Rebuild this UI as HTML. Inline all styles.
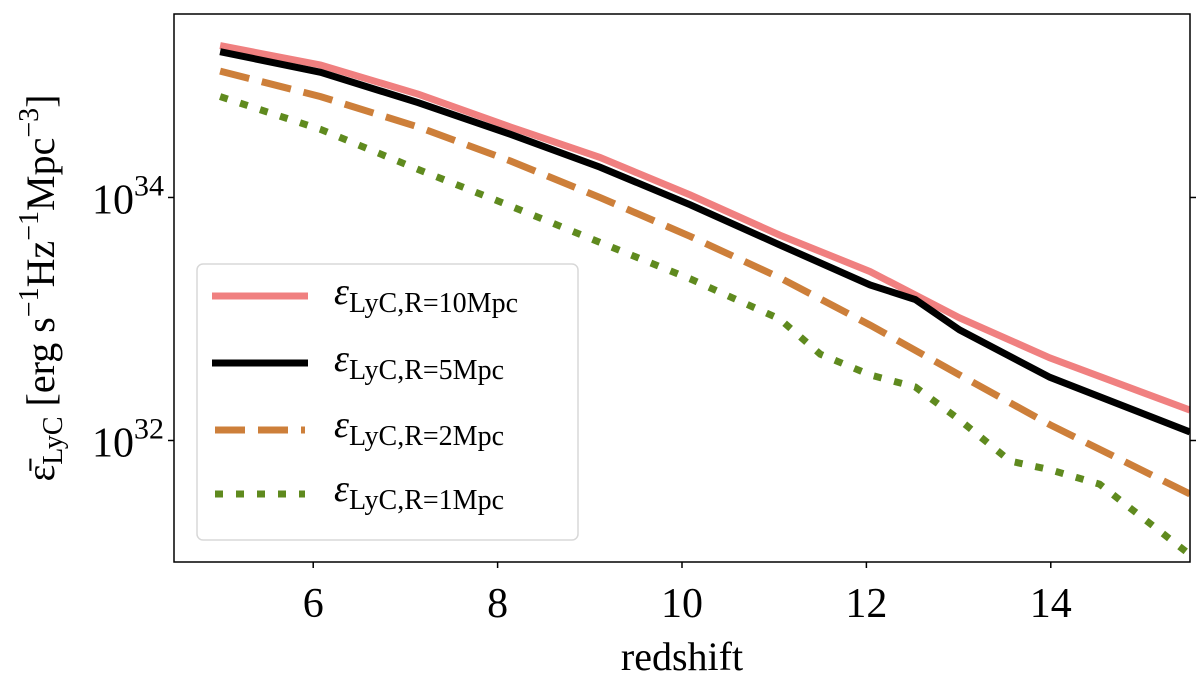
<!DOCTYPE html>
<html><head><meta charset="utf-8"><style>
body{margin:0;background:#fff}
svg{display:block;font-family:"Liberation Serif",serif}
</style></head><body>
<svg id="chart" width="1200" height="689" viewBox="0 0 1200 689">
<g id="series"></g>
<rect x="174" y="14" width="1016" height="548" fill="none" stroke="#000" stroke-width="1.5"/>
<g id="axes"></g>
<text x="682" y="670" font-size="40" text-anchor="middle">redshift</text>
<text transform="translate(54,288) rotate(-90)" font-size="40" text-anchor="middle">ε̄<tspan font-size="28" dy="8">LyC</tspan><tspan dy="-8"> [erg s</tspan><tspan font-size="28" dy="-16">−1</tspan><tspan dy="16">Hz</tspan><tspan font-size="28" dy="-16">−1</tspan><tspan dy="16">Mpc</tspan><tspan font-size="28" dy="-16">−3</tspan><tspan dy="16">]</tspan></text>
<g>
<rect x="197" y="264" width="381" height="276" rx="6" fill="#fff" fill-opacity="0.8" stroke="#d8d8d8" stroke-width="1.5"/>
<line x1="212" y1="296" x2="308" y2="296" stroke="#f08080" stroke-width="7"/>
<line x1="212" y1="363" x2="308" y2="363" stroke="#000" stroke-width="7"/>
<line x1="215" y1="430" x2="305" y2="430" stroke="#cd7f3a" stroke-width="7" stroke-dasharray="30,13"/>
<line x1="215" y1="494" x2="305" y2="494" stroke="#5f8a1e" stroke-width="7" stroke-dasharray="8,13"/>
<text x="334" y="304" font-size="38"><tspan font-style="italic">ε</tspan><tspan font-size="28" dy="8">LyC,R=10Mpc</tspan></text>
<text x="334" y="371" font-size="38"><tspan font-style="italic">ε</tspan><tspan font-size="28" dy="8">LyC,R=5Mpc</tspan></text>
<text x="334" y="437" font-size="38"><tspan font-style="italic">ε</tspan><tspan font-size="28" dy="8">LyC,R=2Mpc</tspan></text>
<text x="334" y="501" font-size="38"><tspan font-style="italic">ε</tspan><tspan font-size="28" dy="8">LyC,R=1Mpc</tspan></text>
</g>
</svg>
<script>
const xTicks=[6,8,10,12,14];
const yTickExps=[32,34];
const zA=[4.99,6.08,7.14,8.14,9.11,10.09,11.06,12.04,13.01,13.99,15.51];
const r10=[35.25,35.09,34.85,34.58,34.33,34.02,33.69,33.39,33.01,32.68,32.25];
const zB=[4.99,6.08,7.14,8.14,9.11,10.09,11.06,12.04,12.53,13.01,13.99,15.51];
const r5=[35.20,35.03,34.78,34.52,34.25,33.94,33.61,33.28,33.16,32.91,32.52,32.07];
const r2=[35.04,34.83,34.58,34.30,34.0,33.68,33.34,32.95,32.54,32.13,31.56];
const zC=[4.99,6.08,7.14,8.14,9.11,10.09,11.06,11.5,12.04,12.53,13.01,13.56,13.99,14.53,15.51];
const r1=[34.83,34.56,34.23,33.93,33.63,33.33,33.0,32.71,32.54,32.44,32.17,31.83,31.76,31.64,31.06];

const NS='http://www.w3.org/2000/svg';
const X0=174,X1=1190,Y0=562,Y1=14,XMIN=4.49,XMAX=15.51,YMIN=31.0,YMAX=35.51;
const sx=v=>X0+(v-XMIN)/(XMAX-XMIN)*(X1-X0);
const sy=v=>Y0-(v-YMIN)/(YMAX-YMIN)*(Y0-Y1);
const series=document.getElementById('series');
function line(xs,ys,color,dash,name){
  const p=document.createElementNS(NS,'path');
  p.setAttribute('d',xs.map((x,i)=>(i?'L':'M')+sx(x).toFixed(1)+','+sy(ys[i]).toFixed(1)).join(''));
  p.setAttribute('fill','none');p.setAttribute('stroke',color);p.setAttribute('stroke-width','7');
  if(dash)p.setAttribute('stroke-dasharray',dash);
  
  
  series.appendChild(p);
}
const cp=document.createElementNS(NS,'clipPath');cp.id='clip';
const cr=document.createElementNS(NS,'rect');cr.setAttribute('x',X0);cr.setAttribute('y',Y1);cr.setAttribute('width',X1-X0);cr.setAttribute('height',Y0-Y1);
cp.appendChild(cr);document.getElementById('chart').appendChild(cp);
series.setAttribute('clip-path','url(#clip)');
line(zC,r1,'#5f8a1e','8,13','series-r1mpc');
line(zA,r2,'#cd7f3a','30,13','series-r2mpc');
line(zA,r10,'#f08080',null,'series-r10mpc');
line(zB,r5,'#000',null,'series-r5mpc');

const axes=document.getElementById('axes');
xTicks.forEach(t=>{
  const l=document.createElementNS(NS,'line');
  l.setAttribute('x1',sx(t));l.setAttribute('x2',sx(t));l.setAttribute('y1',Y0);l.setAttribute('y2',Y0+6);
  l.setAttribute('stroke','#000');l.setAttribute('stroke-width','1.5');
  
  
  axes.appendChild(l);
  const tx=document.createElementNS(NS,'text');
  tx.setAttribute('x',sx(t));tx.setAttribute('y',Y0+55);tx.setAttribute('font-size','42');tx.setAttribute('text-anchor','middle');
  tx.textContent=t;
  
  
  axes.appendChild(tx);
});
yTickExps.forEach(e=>{
  [[X0-6,X0],[X1,X1+6]].forEach(([a,b])=>{
    const l=document.createElementNS(NS,'line');
    l.setAttribute('x1',a);l.setAttribute('x2',b);l.setAttribute('y1',sy(e));l.setAttribute('y2',sy(e));
    l.setAttribute('stroke','#000');l.setAttribute('stroke-width','1.5');
    
    
    axes.appendChild(l);
  });
  const tx=document.createElementNS(NS,'text');
  tx.setAttribute('x',X0-10);tx.setAttribute('y',sy(e)+16);tx.setAttribute('font-size','42');tx.setAttribute('text-anchor','end');
  const a=document.createElementNS(NS,'tspan');a.textContent='10';
  const b=document.createElementNS(NS,'tspan');b.textContent=e;b.setAttribute('font-size','30');b.setAttribute('dy','-18');
  tx.appendChild(a);tx.appendChild(b);
  
  
  axes.appendChild(tx);
});
</script>
</body></html>
